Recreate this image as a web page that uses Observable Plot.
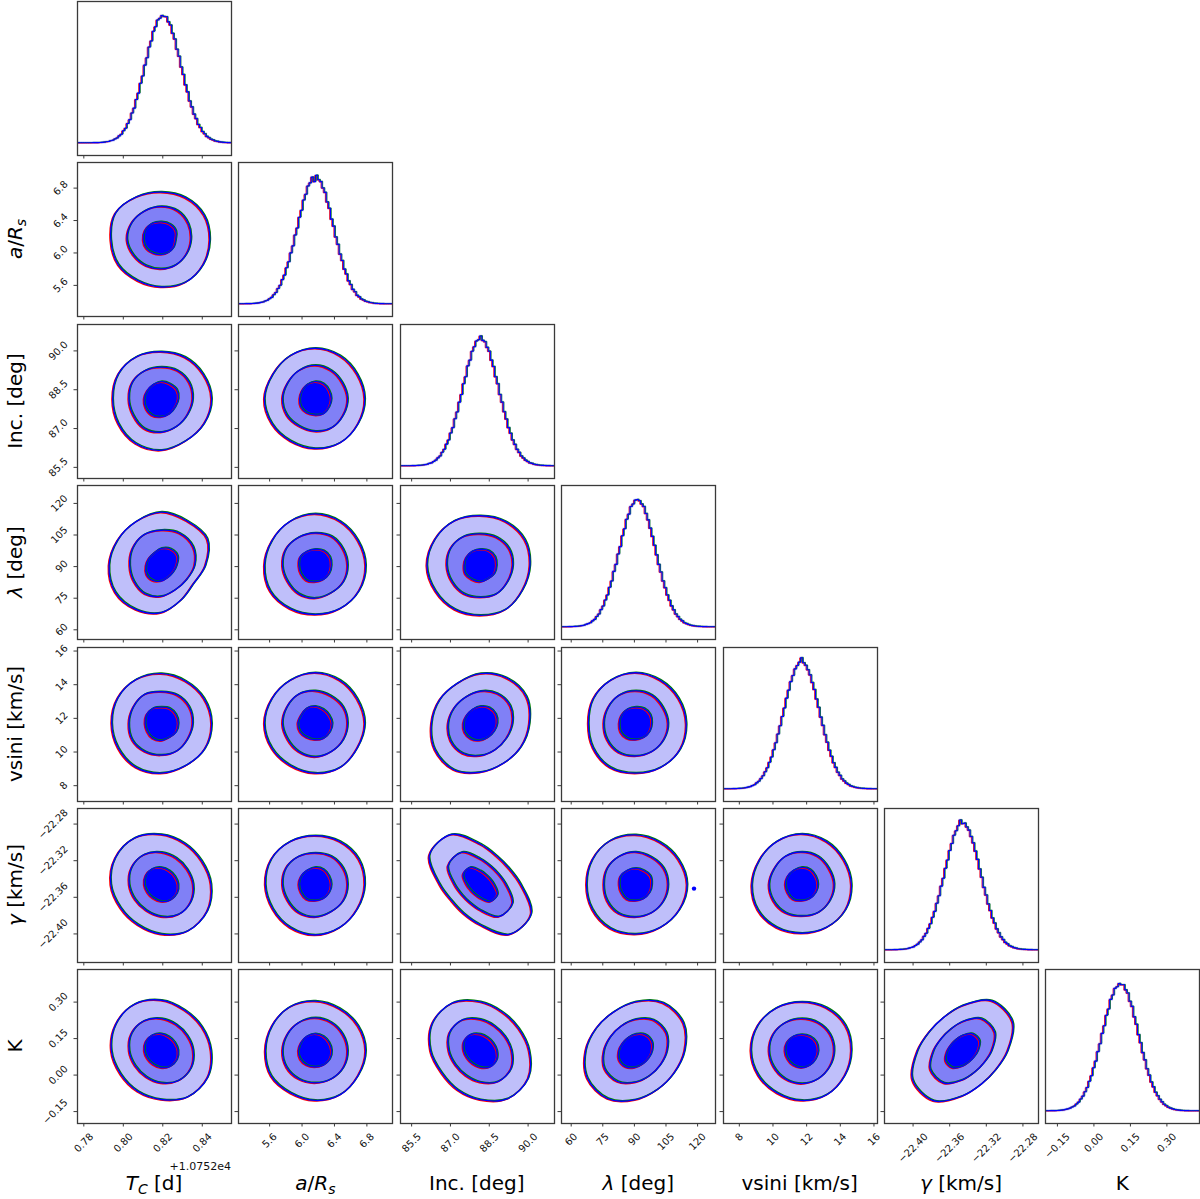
<!DOCTYPE html>
<html><head><meta charset="utf-8">
<script src="https://cdn.jsdelivr.net/npm/d3@7"></script>
<script src="https://cdn.jsdelivr.net/npm/@observablehq/plot@0.6"></script>
<style>
body{margin:0;background:#fff;}
#fig{position:relative;width:1200px;height:1199px;overflow:hidden;font-family:"DejaVu Sans",sans-serif;background:#fff;}
.title{position:absolute;font-size:20px;white-space:nowrap;color:#000;line-height:1.164;font-family:"DejaVu Sans",sans-serif;}
.title sub{font-size:0.7em;vertical-align:-0.28em;line-height:0;}
.offset{position:absolute;font-size:11px;color:#111;white-space:nowrap;font-family:"DejaVu Sans",sans-serif;}
</style></head><body><div id="fig"></div><script>
// ---- data ----
const paramLabels = ["<i>T</i><sub><i>C</i></sub> [d]", "<i>a</i>/<i>R</i><sub><i>s</i></sub>", "Inc. [deg]", "<i>λ</i> [deg]", "vsini [km/s]", "<i>γ</i> [km/s]", "K"];
const paramDomains = [[0.7768, 0.8548], [5.216, 7.116], [85.07, 91.02], [55.4, 128.5], [7.06, 16.21], [-22.4312, -22.263], [-0.199, 0.434]];
const paramTicks = [[0.78, 0.80, 0.82, 0.84], [5.6, 6.0, 6.4, 6.8], [85.5, 87.0, 88.5, 90.0], [60, 75, 90, 105, 120], [8, 10, 12, 14, 16], [-22.40, -22.36, -22.32, -22.28], [-0.15, 0.00, 0.15, 0.30]];
const tickDecimals = [2, 1, 1, 0, 0, 2, 2];
const tcOffsetText = "+1.0752e4";
const centers = [0.8192, 6.16, 88.15, 90.5, 11.7, -22.346, 0.10];
const widths = [0.00911, 0.223, 0.698, 8.6, 1.075, 0.0197, 0.0742];

// marginal histograms (normalised heights, 72 bins spanning each axis range)
const histTC = [0,0,0,0,0,0,0,
 .001,.001,.001,.002,.003,.005,.008,.010,.016,.020,.030,.038,
 .054,.067,.094,.114,.152,.182,.234,.272,.340,.390,.468,.525,
 .610,.668,.752,.80,.876,.912,.965,.978,1.0,
 .992,.99,.95,.925,.86,.815,.735,.68,.595,.537,.455,.40,
 .328,.282,.225,.19,.144,.12,.088,.071,.05,.04,.028,.022,
 .014,.011,.007,.005,.003,.002,.001,.001];
const histARs = [0,0,0,
 .001,.001,.001,.002,.003,.005,.007,.011,.014,.022,.028,.040,
 .050,.071,.089,.12,.145,.19,.225,.283,.33,.40,.455,.54,
 .595,.68,.735,.815,.86,.925,.95,.995,.96,
 1.01,.975,.96,.91,.875,.80,.75,.665,.61,.525,.467,.39,
 .34,.272,.234,.18,.151,.113,.094,.066,.054,.037,.03,.02,
 .016,.010,.008,.004,.003,.002,.001,.001,0,0,0,0];
const histInc = [0,0,0,0,0,
 .001,.001,.002,.003,.004,.006,.009,.012,.019,.023,.034,.044,
 .062,.077,.106,.13,.17,.203,.258,.30,.37,.423,.50,.56,
 .645,.70,.785,.83,.90,.935,.98,.99,1.02,
 .985,.975,.93,.90,.83,.78,.70,.645,.56,.50,.425,.367,
 .30,.256,.203,.168,.129,.105,.077,.061,.044,.034,.023,.019,
 .012,.009,.006,.004,.003,.002,.001,.001,0,0];
const histLam = [0,0,0,
 .001,.001,.002,.003,.004,.006,.009,.012,.019,.025,.032,.046,
 .058,.081,.10,.135,.163,.21,.25,.31,.36,.435,.49,.572,
 .63,.715,.77,.845,.885,.945,.965,.995,1.0,
 .99,.965,.945,.89,.84,.775,.71,.64,.565,.49,.43,.36,
 .307,.25,.208,.164,.133,.10,.08,.059,.046,.032,.025,.018,
 .012,.009,.006,.004,.003,.002,.001,.001,0,0,0,0];
const histVsini = [0,0,0,0,
 .001,.001,.002,.003,.004,.006,.009,.013,.017,.025,.032,.046,
 .059,.08,.102,.134,.165,.208,.25,.307,.362,.43,.495,.568,
 .635,.712,.775,.842,.89,.942,.968,.995,1.03,
 .99,.97,.935,.895,.835,.78,.705,.64,.563,.498,.425,.366,
 .303,.255,.204,.168,.13,.105,.077,.061,.044,.034,.023,.018,
 .012,.009,.006,.004,.003,.002,.001,.001,0,0,0];
const histGamma = [0,0,0,0,
 .001,.001,.002,.003,.004,.006,.008,.013,.018,.023,.034,.044,
 .061,.078,.105,.13,.168,.204,.255,.302,.366,.425,.50,.562,
 .64,.705,.78,.835,.90,.935,.975,1.02,.99,
 .995,.965,.94,.89,.84,.775,.71,.635,.57,.49,.43,.36,
 .308,.25,.21,.164,.134,.101,.08,.058,.046,.032,.025,.017,
 .013,.008,.006,.004,.003,.002,.001,.001,0,0,0];
const histK = [0,0,
 .001,.001,.001,.002,.003,.005,.007,.011,.015,.021,.030,.038,
 .053,.068,.092,.115,.15,.183,.232,.275,.338,.39,.465,.527,
 .608,.668,.75,.80,.875,.91,.962,.975,1.0,
 .99,.99,.95,.925,.86,.82,.738,.68,.598,.535,.457,.40,
 .33,.28,.226,.188,.146,.118,.09,.07,.051,.04,.028,.021,
 .015,.010,.007,.005,.003,.002,.001,.001,0,0,0,0,0];
const histograms = [histTC, histARs, histInc, histLam, histVsini, histGamma, histK];

// 2-D panels: [x parameter, y parameter]
const panelPairs = [[0,1],[0,2],[1,2],[0,3],[1,3],[2,3],[0,4],[1,4],[2,4],[3,4],[0,5],[1,5],[2,5],[3,5],[4,5],[0,6],[1,6],[2,6],[3,6],[4,6],[5,6]];
// contour radii (in widths) at 0°,30°,...,330° around the centre
const outerRadii = [
 [2.7,2.75,2.7,2.65,2.75,2.95,2.8,2.75,2.6,2.6,2.7,2.7],
 [2.8,2.7,2.65,2.6,2.7,2.75,2.7,2.75,2.85,2.85,2.7,2.75],
 [2.75,2.7,2.75,2.8,2.75,2.7,2.8,2.75,2.7,2.75,2.8,2.75],
 [2.45,2.95,2.85,2.95,2.8,2.8,2.9,2.95,2.8,2.6,2.2,2.05],
 [2.8,2.75,2.8,2.85,2.8,2.75,2.8,2.85,2.75,2.7,2.75,2.8],
 [2.75,2.85,2.8,2.75,2.85,2.9,2.95,2.85,2.8,2.75,2.8,2.7],
 [2.8,2.75,2.7,2.75,2.8,2.8,2.75,2.75,2.8,2.75,2.7,2.8],
 [2.75,2.7,2.75,2.8,2.75,2.75,2.8,2.75,2.7,2.75,2.8,2.7],
 [2.72,2.95,2.9,2.75,2.55,2.6,2.7,2.9,2.95,2.7,2.55,2.6],
 [2.8,2.75,2.75,2.8,2.75,2.7,2.6,2.7,2.8,2.75,2.8,2.85],
 [2.77,2.6,2.62,2.77,2.97,2.95,2.8,2.6,2.58,2.75,2.97,2.95],
 [2.75,2.8,2.75,2.7,2.75,2.8,2.75,2.7,2.75,2.8,2.75,2.7],
 [2.24,1.82,1.82,2.24,3.2,3.25,2.24,1.82,1.85,2.24,3.2,3.25],
 [2.85,2.75,2.7,2.75,2.8,2.75,2.7,2.75,2.8,2.75,2.75,2.8],
 [2.75,2.7,2.75,2.8,2.75,2.7,2.75,2.8,2.75,2.7,2.75,2.8],
 [2.77,2.62,2.6,2.8,2.97,2.92,2.77,2.6,2.6,2.7,2.95,2.97],
 [2.8,2.75,2.7,2.75,2.8,2.75,2.75,2.8,2.7,2.75,2.8,2.75],
 [2.71,2.46,2.46,2.71,3.06,3.06,2.75,2.46,2.5,2.71,3.06,3.06],
 [2.71,3.06,3.06,2.71,2.46,2.5,2.75,3.06,3.06,2.71,2.46,2.46],
 [2.75,2.8,2.75,2.7,2.75,2.8,2.8,2.75,2.7,2.75,2.8,2.75],
 [2.5,3.2,3.2,2.5,2.12,2.12,2.5,3.2,3.2,2.5,2.12,2.12]
];
const midRadii = [
 [1.65,1.75,1.85,1.85,1.85,1.9,1.9,1.75,1.65,1.6,1.6,1.6],
 [1.75,1.8,1.8,1.75,1.8,1.85,1.8,1.8,1.9,1.85,1.75,1.7],
 [1.8,1.75,1.8,1.85,1.8,1.75,1.8,1.8,1.75,1.8,1.85,1.8],
 [1.85,2.05,2.05,1.95,1.95,1.85,1.75,1.75,1.8,1.7,1.55,1.6],
 [1.8,1.8,1.85,1.8,1.8,1.85,1.8,1.75,1.8,1.8,1.75,1.8],
 [1.8,1.85,1.8,1.75,1.85,1.9,1.85,1.8,1.8,1.75,1.8,1.75],
 [1.75,1.8,1.8,1.75,1.85,1.8,1.8,1.85,1.8,1.75,1.75,1.7],
 [1.8,1.8,1.75,1.8,1.85,1.8,1.8,1.75,1.8,1.85,1.8,1.8],
 [1.78,1.92,1.9,1.78,1.66,1.68,1.78,1.9,1.92,1.78,1.67,1.66],
 [1.8,1.75,1.8,1.8,1.8,1.75,1.75,1.8,1.85,1.8,1.8,1.8],
 [1.78,1.67,1.68,1.78,1.91,1.9,1.78,1.67,1.66,1.78,1.92,1.9],
 [1.8,1.8,1.8,1.75,1.8,1.85,1.8,1.75,1.8,1.8,1.75,1.8],
 [1.42,1.16,1.16,1.42,2.06,2.06,1.42,1.16,1.16,1.42,2.06,2.06],
 [1.8,1.8,1.75,1.8,1.8,1.8,1.75,1.8,1.85,1.8,1.8,1.8],
 [1.8,1.75,1.8,1.8,1.8,1.75,1.8,1.8,1.8,1.75,1.8,1.8],
 [1.78,1.67,1.67,1.78,1.91,1.91,1.78,1.67,1.67,1.78,1.91,1.91],
 [1.8,1.78,1.8,1.82,1.8,1.78,1.8,1.82,1.8,1.78,1.8,1.82],
 [1.74,1.58,1.58,1.74,1.97,1.97,1.74,1.58,1.58,1.74,1.97,1.97],
 [1.74,1.97,1.97,1.74,1.58,1.58,1.74,1.97,1.97,1.74,1.58,1.58],
 [1.8,1.82,1.8,1.78,1.8,1.82,1.8,1.78,1.8,1.82,1.8,1.78],
 [1.61,2.06,2.06,1.61,1.36,1.36,1.61,2.06,2.06,1.61,1.36,1.36]
];
const innerRadii = [
 [0.8,0.95,1.0,1.0,1.05,1.05,1.0,0.95,0.85,0.8,0.8,0.8],
 [0.95,1.0,0.95,0.95,0.9,0.9,0.95,1.0,1.05,1.0,0.95,0.9],
 [0.9,0.9,0.95,0.95,0.9,0.85,0.85,0.9,0.9,0.9,0.95,0.9],
 [0.85,1.05,1.05,0.95,0.8,0.8,0.85,0.95,0.95,0.85,0.75,0.75],
 [0.9,0.95,0.95,0.9,0.9,0.95,0.9,0.9,0.95,0.9,0.9,0.9],
 [0.9,0.95,0.95,0.9,0.9,0.9,0.9,0.95,0.9,0.9,0.85,0.9],
 [0.95,0.95,0.95,0.9,0.95,0.95,0.9,0.9,0.95,0.95,0.9,0.95],
 [0.95,0.9,0.9,0.95,0.95,0.9,0.95,0.95,0.9,0.9,0.95,0.95],
 [0.94,1.0,1.0,0.94,0.88,0.88,0.94,1.0,1.0,0.94,0.88,0.88],
 [0.9,0.95,0.95,0.9,0.9,0.9,0.9,0.95,0.95,0.9,0.9,0.9],
 [0.94,0.88,0.88,0.94,1.0,1.0,0.94,0.88,0.88,0.94,1.0,1.0],
 [0.9,0.9,0.95,0.95,0.9,0.9,0.9,0.9,0.95,0.9,0.9,0.9],
 [0.76,0.62,0.62,0.76,1.1,1.1,0.76,0.62,0.62,0.76,1.1,1.1],
 [0.9,0.95,0.9,0.9,0.9,0.95,0.9,0.9,0.95,0.9,0.9,0.9],
 [0.9,0.9,0.95,0.95,0.9,0.9,0.9,0.9,0.95,0.9,0.9,0.9],
 [0.94,0.88,0.88,0.94,1.0,1.0,0.94,0.88,0.88,0.94,1.0,1.0],
 [0.92,0.9,0.92,0.94,0.92,0.9,0.92,0.94,0.92,0.9,0.92,0.94],
 [0.92,0.83,0.83,0.92,1.04,1.04,0.92,0.83,0.83,0.92,1.04,1.04],
 [0.92,1.04,1.04,0.92,0.83,0.83,0.92,1.04,1.04,0.92,0.83,0.83],
 [0.92,0.94,0.92,0.9,0.92,0.94,0.92,0.9,0.92,0.94,0.92,0.9],
 [0.85,1.09,1.09,0.85,0.72,0.72,0.85,1.09,1.09,0.85,0.72,0.72]
];
const strayPoint = {pair: [3,5], x: 118.3, y: -22.3505};

// ---- layout / style ----
const S = 154, PITCH = 161.4, X0 = 77, Y0 = 1;
const ML = 62, MR = 14, MT = 14, MB = 62;
const FILL_OUTER = "#bfbffa", FILL_MID = "#8080f6", FILL_INNER = "#0000ff";
const chainStyles = [
  {stroke: "#ff0000", dx: -0.8, dy: 0.6},
  {stroke: "#008000", dx: 0.7, dy: -0.6},
  {stroke: "#0000ff", dx: 0, dy: 0}
];
const fig = document.getElementById("fig");
const ctx = document.createElement("canvas").getContext("2d");
ctx.font = "10px 'DejaVu Sans'";
const fmt = (v, i) => v.toFixed(tickDecimals[i]).replace("-", "\u2212");
const halfBox = s => (ctx.measureText(s).width + 11) * Math.SQRT1_2 / 2;

function ring(i, j, radii) {
  return radii.map((r, k) => {
    const a = k * Math.PI / 6;
    return {x: centers[i] + r * Math.cos(a) * widths[i], y: centers[j] + r * Math.sin(a) * widths[j]};
  });
}
function histPoints(i) {
  const h = histograms[i], [lo, hi] = paramDomains[i], w = (hi - lo) / h.length;
  const pts = h.map((v, k) => ({x: lo + k * w, y: v}));
  pts.push({x: hi, y: h[h.length - 1]});
  return pts;
}

function makePanel(col, row) {
  const diag = col === row;
  const marks = [];
  if (diag) {
    const pts = histPoints(col);
    marks.push(Plot.line(pts, {x: "x", y: "y", curve: "step-after", stroke: "#9a9aff", strokeWidth: 2.6, strokeOpacity: 0.55, clip: true}));
    for (const c of chainStyles) {
      marks.push(Plot.line(pts, {x: "x", y: "y", curve: "step-after", stroke: c.stroke, strokeWidth: c.stroke === "#0000ff" ? 1.1 : 0.9, dx: c.dx, dy: c.dy * 0.5, clip: true}));
    }
  } else {
    const p = panelPairs.findIndex(([a, b]) => a === col && b === row);
    const levels = [outerRadii[p], midRadii[p], innerRadii[p]].map(r => ring(col, row, r));
    const fills = [FILL_OUTER, FILL_MID, FILL_INNER];
    levels.forEach((pts, l) => marks.push(Plot.line(pts, {x: "x", y: "y", curve: "catmull-rom-closed", fill: fills[l], stroke: "none"})));
    for (const c of chainStyles) {
      levels.forEach(pts => marks.push(Plot.line(pts, {x: "x", y: "y", curve: "catmull-rom-closed", stroke: c.stroke, strokeWidth: 1.4, dx: c.dx, dy: c.dy})));
    }
    if (strayPoint.pair[0] === col && strayPoint.pair[1] === row) {
      marks.push(Plot.dot([strayPoint], {x: "x", y: "y", r: 2.2, fill: "#0000ff"}));
    }
  }
  marks.push(Plot.frame({stroke: "#3a3a3a", strokeWidth: 1.3}));
  if (row === 6) {
    for (const t of paramTicks[col]) {
      const s = fmt(t, col);
      marks.push(Plot.text([t], {x: d => d, frameAnchor: "bottom", text: () => s, rotate: -45, textAnchor: "middle", lineAnchor: "middle", dy: 7.5 + halfBox(s), fontSize: 10, fill: "#111"}));
    }
  }
  if (col === 0 && row > 0) {
    for (const t of paramTicks[row]) {
      const s = fmt(t, row);
      marks.push(Plot.text([t], {y: d => d, frameAnchor: "left", text: () => s, rotate: -45, textAnchor: "middle", lineAnchor: "middle", dx: -(7.5 + halfBox(s)), fontSize: 10, fill: "#111"}));
    }
  }
  const svg = Plot.plot({
    width: S + ML + MR, height: S + MT + MB,
    marginLeft: ML, marginRight: MR, marginTop: MT, marginBottom: MB,
    style: {background: "none", overflow: "visible", fontFamily: "DejaVu Sans", fontSize: "10px", color: "#3a3a3a"},
    x: {domain: paramDomains[col], ticks: paramTicks[col], tickSize: 3.5, tickFormat: () => "", label: null},
    y: diag ? {domain: [-0.1, 1.11], axis: null} : {domain: paramDomains[row], ticks: paramTicks[row], tickSize: 3.5, tickFormat: () => "", label: null},
    marks
  });
  svg.style.position = "absolute";
  svg.style.left = (X0 + col * PITCH - ML) + "px";
  svg.style.top = (Y0 + row * PITCH - MT) + "px";
  fig.appendChild(svg);
}

for (let row = 0; row < 7; ++row) for (let col = 0; col <= row; ++col) makePanel(col, row);

// axis titles
paramLabels.forEach((lab, i) => {
  const d = document.createElement("div");
  d.className = "title"; d.innerHTML = lab;
  d.style.left = (X0 + i * PITCH + S / 2) + "px";
  d.style.top = "1184px";
  d.style.transform = "translate(-50%,-50%)";
  fig.appendChild(d);
  if (i > 0) {
    const e = document.createElement("div");
    e.className = "title"; e.innerHTML = lab;
    e.style.left = "16px";
    e.style.top = (Y0 + i * PITCH + S / 2) + "px";
    e.style.transform = "translate(-50%,-50%) rotate(-90deg)";
    fig.appendChild(e);
  }
});
const off = document.createElement("div");
off.className = "offset"; off.textContent = tcOffsetText;
off.style.right = (1200 - (X0 + S)) + "px";
off.style.top = "1160px";
fig.appendChild(off);
</script></body></html>
